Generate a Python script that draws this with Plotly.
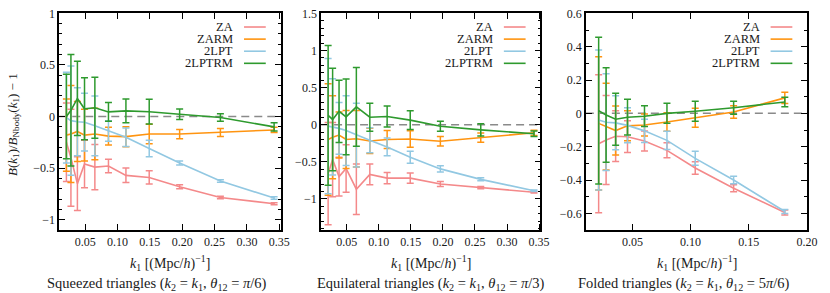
import plotly.graph_objects as go
from plotly.subplots import make_subplots

# ---------------- data ----------------
series_names = ["ZA", "ZARM", "2LPT", "2LPTRM"]
series_colors = ["#f4898a", "#ff9410", "#92c8e2", "#2e9a2e"]

# Squeezed triangles
k_sq = [0.021, 0.028, 0.038, 0.049, 0.065, 0.086, 0.113, 0.149, 0.196, 0.259, 0.342]
sq_ZA = [-0.25, -0.40, -0.65, -0.46, -0.49, -0.48, -0.57, -0.59, -0.68, -0.785, -0.845]
sq_ZA_err = [0.38, 0.47, 0.26, 0.23, 0.22, 0.065, 0.07, 0.065, 0.02, 0.012, 0.01]
sq_ZARM = [-0.18, -0.17, -0.145, -0.18, -0.17, -0.19, -0.195, -0.17, -0.17, -0.155, -0.13]
sq_ZARM_err = [0.35, 0.47, 0.29, 0.25, 0.25, 0.085, 0.097, 0.095, 0.045, 0.038, 0.025]
sq_2LPT = [-0.01, -0.04, -0.05, -0.055, -0.09, -0.14, -0.20, -0.31, -0.45, -0.625, -0.79]
sq_2LPT_err = [0.44, 0.53, 0.33, 0.28, 0.29, 0.10, 0.09, 0.08, 0.02, 0.012, 0.012]
sq_2LPTRM = [0.0, 0.06, 0.175, 0.075, 0.085, 0.045, 0.055, 0.047, 0.022, -0.01, -0.10]
sq_2LPTRM_err = [0.41, 0.54, 0.36, 0.30, 0.295, 0.09, 0.115, 0.12, 0.05, 0.036, 0.04]

# Equilateral triangles
k_eq = [0.021, 0.028, 0.038, 0.049, 0.065, 0.086, 0.113, 0.149, 0.196, 0.259, 0.342]
eq_ZA = [-0.66, -0.47, -0.70, -0.59, -0.87, -0.67, -0.72, -0.72, -0.80, -0.85, -0.91]
eq_ZA_err = [0.69, 0.50, 0.26, 0.32, 0.34, 0.14, 0.075, 0.07, 0.035, 0.015, 0.01]
eq_ZARM = [-0.20, -0.17, -0.14, -0.20, -0.19, -0.22, -0.20, -0.193, -0.224, -0.175, -0.11]
eq_ZARM_err = [0.75, 0.56, 0.31, 0.39, 0.38, 0.17, 0.12, 0.11, 0.064, 0.062, 0.035]
eq_2LPT = [-0.02, -0.03, -0.05, -0.08, -0.14, -0.21, -0.30, -0.44, -0.596, -0.737, -0.89]
eq_2LPT_err = [0.91, 0.65, 0.35, 0.47, 0.43, 0.17, 0.12, 0.08, 0.043, 0.02, 0.01]
eq_2LPTRM = [0.125, 0.07, 0.18, 0.105, 0.24, 0.10, 0.11, 0.061, -0.022, -0.07, -0.123]
eq_2LPTRM_err = [0.94, 0.69, 0.42, 0.51, 0.53, 0.19, 0.14, 0.125, 0.068, 0.083, 0.037]

# Folded triangles
k_fo = [0.021, 0.0274, 0.0356, 0.0458, 0.0604, 0.0797, 0.104, 0.137, 0.181]
fo_ZA = [-0.182, -0.16, -0.137, -0.14, -0.166, -0.222, -0.328, -0.449, -0.595]
fo_ZA_err = [0.414, 0.267, 0.152, 0.095, 0.06, 0.045, 0.037, 0.021, 0.015]
fo_ZARM = [-0.06, -0.08, -0.103, -0.075, -0.07, -0.052, -0.027, 0.008, 0.093]
fo_ZARM_err = [0.40, 0.26, 0.147, 0.09, 0.066, 0.055, 0.057, 0.037, 0.034]
fo_2LPT = [-0.04, -0.053, -0.057, -0.072, -0.105, -0.162, -0.27, -0.40, -0.589]
fo_2LPT_err = [0.42, 0.29, 0.162, 0.105, 0.07, 0.055, 0.042, 0.023, 0.012]
fo_2LPTRM = [0.016, -0.01, -0.035, -0.023, -0.017, 0.0, 0.013, 0.034, 0.068]
fo_2LPTRM_err = [0.44, 0.283, 0.156, 0.107, 0.062, 0.06, 0.06, 0.039, 0.028]

subtitles = [
    "Squeezed triangles (<i>k</i><sub>2</sub> = <i>k</i><sub>1</sub>, <i>θ</i><sub>12</sub> = <i>π</i>/6)",
    "Equilateral triangles (<i>k</i><sub>2</sub> = <i>k</i><sub>1</sub>, <i>θ</i><sub>12</sub> = <i>π</i>/3)",
    "Folded triangles (<i>k</i><sub>2</sub> = <i>k</i><sub>1</sub>, <i>θ</i><sub>12</sub> = 5<i>π</i>/6)",
]
x_title = "<i>k</i><sub>1</sub> [(Mpc/<i>h</i>)<sup>−1</sup>]"
y_title = "<i>B</i>(<i>k</i><sub>1</sub>)/<i>B</i><sub>Nbody</sub>(<i>k</i><sub>1</sub>) − 1"

panels = [
    dict(k=k_sq, vals=[sq_ZA, sq_ZARM, sq_2LPT, sq_2LPTRM],
         errs=[sq_ZA_err, sq_ZARM_err, sq_2LPT_err, sq_2LPTRM_err],
         xr=[0.010, 0.352], yr=[-1.1, 1.0], ydt=0.5, px=(60, 284), sub_cx=158),
    dict(k=k_eq, vals=[eq_ZA, eq_ZARM, eq_2LPT, eq_2LPTRM],
         errs=[eq_ZA_err, eq_ZARM_err, eq_2LPT_err, eq_2LPTRM_err],
         xr=[0.010, 0.352], yr=[-1.42, 1.5], ydt=0.5, px=(325, 547), sub_cx=436),
    dict(k=k_fo, vals=[fo_ZA, fo_ZARM, fo_2LPT, fo_2LPTRM],
         errs=[fo_ZA_err, fo_ZARM_err, fo_2LPT_err, fo_2LPTRM_err],
         xr=[0.010, 0.2002], yr=[-0.7, 0.6], ydt=0.2, px=(593, 817), sub_cx=692),
]

# ---------------- figure ----------------
W, H = 830, 293
FONT = "Liberation Serif, DejaVu Serif, serif"
TOP, BOT = 6.5, 228.5
TXT = "#1a1a1a"


def fx(p):
    return p / W


def fy(p):
    return 1 - p / H


fig = make_subplots(rows=1, cols=3)

annotations = []
shapes = []
for i, p in enumerate(panels):
    col = i + 1
    sfx = "" if i == 0 else str(col)
    for name, color, v, e in zip(series_names, series_colors, p["vals"], p["errs"]):
        fig.add_trace(go.Scatter(
            x=p["k"], y=v, mode="lines", name=name, showlegend=False,
            line=dict(color=color, width=1.6),
            error_y=dict(type="data", array=e, visible=True, color=color,
                         thickness=1.5, width=3.5),
        ), row=1, col=col)

    # zero reference line
    shapes.append(dict(type="line", xref=f"x{sfx} domain", yref=f"y{sfx}",
                       x0=0, x1=1, y0=0, y1=0, layer="below",
                       line=dict(color="#8a8a8a", width=1.5, dash="8px,5px")))

    axis_common = dict(showline=True, linecolor="black", linewidth=1.6,
                       mirror="allticks", ticks="inside", ticklen=6,
                       tickwidth=1.2, tickcolor="black", showgrid=False,
                       zeroline=False, ticklabeloverflow="allow",
                       tickfont=dict(family=FONT, size=12, color=TXT))
    fig.update_layout(**{
        f"xaxis{sfx}": dict(domain=[fx(p["px"][0]), fx(p["px"][1])],
                            range=p["xr"], tick0=0.05, dtick=0.05,
                            tickformat=".2f", **axis_common),
        f"yaxis{sfx}": dict(domain=[fy(BOT), fy(TOP)], range=p["yr"],
                            tick0=0, dtick=p["ydt"],
                            minor=dict(dtick=0.1, ticks="inside", ticklen=3,
                                       tickwidth=1.2, tickcolor="black"),
                            **axis_common),
    })

    # legend (manual: right-aligned text, line sample on the right)
    right = p["px"][1]
    for j, (name, color) in enumerate(zip(series_names, series_colors)):
        yy = 20.5 + j * 12.4
        annotations.append(dict(text=name, xref="paper", yref="paper",
                                x=fx(right - 46), y=fy(yy), xanchor="right",
                                yanchor="middle", showarrow=False,
                                font=dict(family=FONT, size=12.5, color=TXT)))
        shapes.append(dict(type="line", xref="paper", yref="paper",
                           x0=fx(right - 37), x1=fx(right - 15),
                           y0=fy(yy), y1=fy(yy),
                           line=dict(color=color, width=1.6)))

    # x title and subtitle
    cx = (p["px"][0] + p["px"][1]) / 2
    annotations.append(dict(text=x_title, xref="paper", yref="paper",
                            x=fx(cx), y=fy(262), xanchor="center",
                            yanchor="middle", showarrow=False,
                            font=dict(family=FONT, size=14, color=TXT)))
    annotations.append(dict(text=subtitles[i], xref="paper", yref="paper",
                            x=fx(p["sub_cx"]), y=fy(284), xanchor="center",
                            yanchor="middle", showarrow=False,
                            font=dict(family=FONT, size=14.5, color=TXT)))

annotations.append(dict(text=y_title, xref="paper", yref="paper",
                        x=fx(13), y=fy(120), xanchor="center", yanchor="middle",
                        textangle=-90, showarrow=False,
                        font=dict(family=FONT, size=13, color=TXT)))

fig.update_layout(width=W, height=H, margin=dict(l=0, r=0, t=0, b=0),
                  paper_bgcolor="white", plot_bgcolor="white",
                  annotations=annotations, shapes=shapes, showlegend=False)

fig.write_html(
    "out.html",
    config={"displayModeBar": False},
    post_script="document.body.style.margin='0';document.body.style.padding='0';"
                "document.documentElement.style.overflow='hidden';",
)
